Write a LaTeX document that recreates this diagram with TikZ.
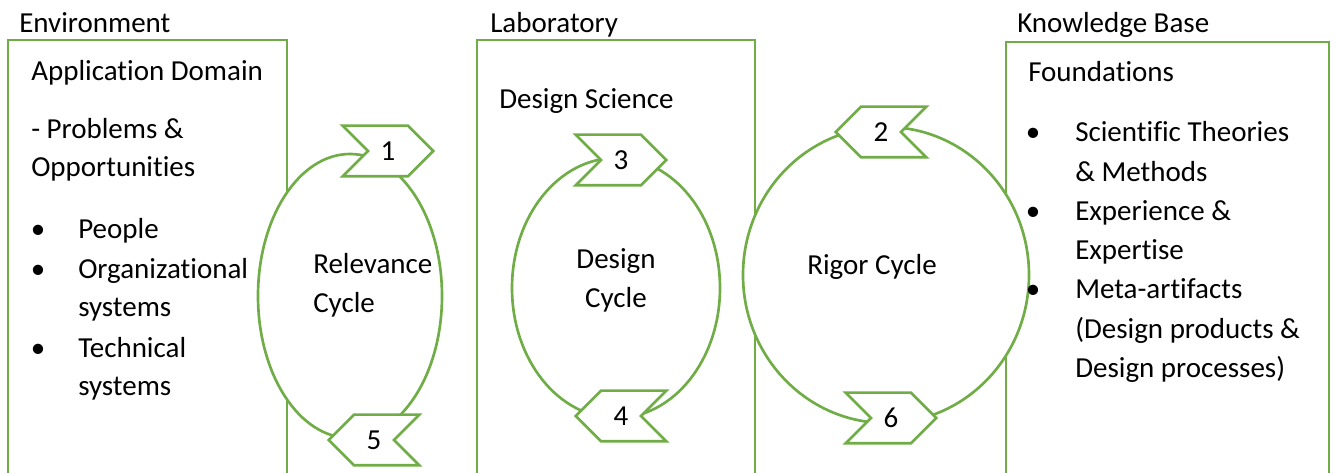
\documentclass[tikz,border=0pt]{standalone}
\usepackage{fontspec}
\setmainfont{Carlito}[Ligatures=NoCommon]
\usetikzlibrary{shapes.symbols,positioning}
\definecolor{cyclegreen}{HTML}{70AD47}

\begin{document}
\begin{tikzpicture}[x=0.75pt,y=-0.75pt]
            \tikzset{every node/.style={inner sep=0pt, font=\fontsize{21.75}{26}\selectfont},
                     panel/.style={draw=cyclegreen, line width=2.2pt},
                     loop/.style={draw=cyclegreen, line width=2pt, fill=white},
                     chevron/.style={shape=signal, draw=cyclegreen, line width=2pt, fill=white,
                                     minimum width=68pt, minimum height=38pt},
                     txt/.style={anchor=base west},
                     mid/.style={anchor=base}}
            \clip (0,0) rectangle (1336,473);
            % the three panels
            \draw[panel] (8,40) rectangle (287,500);
            \draw[panel] (477,40) rectangle (755,500);
            \draw[panel] (1006,42) rectangle (1329,500);
            % the cycles
            \draw[loop] (350,296) ellipse [x radius=92, y radius=142];
            \draw[loop] (616,288) ellipse [x radius=104, y radius=130];
            \draw[loop] (886,275) ellipse [x radius=143, y radius=148];
            \node[chevron, signal from=west, signal to=east] (c1) at (388,151) {1};
            \node[chevron, signal from=east, signal to=west] (c5) at (374,440) {5};
            \node[chevron, signal from=west, signal to=east] (c3) at (621,160) {3};
            \node[chevron, signal from=east, signal to=west] (c4) at (621,416) {4};
            \node[chevron, signal from=east, signal to=west] (c2) at (881,132) {2};
            \node[chevron, signal from=west, signal to=east] (c6) at (891,418) {6};
            % titles
            \node[txt] (env) at (19,33) {Environment};
            \node[txt] (lab) at (490,33) {Laboratory};
            \node[txt] (kb) at (1017,33) {Knowledge Base};
            % environment
            \node[txt] (appdom) at (31,81) {Application Domain};
            \node[txt] (probs) at (31,139) {- Problems \&};
            \node[txt] (opps) at (31,177) {Opportunities};
            \node[mid] (b1) at (38,239) {•};
            \node[txt] (people) at (78,239) {People};
            \node[mid] (b2) at (38,279) {•};
            \node[txt] (org) at (78,279) {Organizational};
            \node[txt] (orgsys) at (78,317) {systems};
            \node[mid] (b3) at (38,358) {•};
            \node[txt] (tech) at (78,358) {Technical};
            \node[txt] (techsys) at (78,396) {systems};
            % laboratory
            \node[txt] (ds) at (499,109) {Design Science};
            \node[txt] (rel) at (313,274) {Relevance};
            \node[txt] (relc) at (313,313) {Cycle};
            \node[mid] (des) at (616,269) {Design};
            \node[mid] (desc) at (616,308) {Cycle};
            \node[mid] (rig) at (872,275) {Rigor Cycle};
            % knowledge base
            \node[txt] (found) at (1028,82) {Foundations};
            \node[mid] (b4) at (1033,142) {•};
            \node[txt] (sci) at (1075,142) {Scientific Theories};
            \node[txt] (meth) at (1075,182) {\& Methods};
            \node[mid] (b5) at (1033,221) {•};
            \node[txt] (exp) at (1075,221) {Experience \&};
            \node[txt] (expt) at (1075,260) {Expertise};
            \node[mid] (b6) at (1033,299) {•};
            \node[txt] (meta) at (1075,299) {Meta-artifacts};
            \node[txt] (prod) at (1075,339) {(Design products \&};
            \node[txt] (proc) at (1075,378) {Design processes)};
        \end{tikzpicture}
\end{document}
